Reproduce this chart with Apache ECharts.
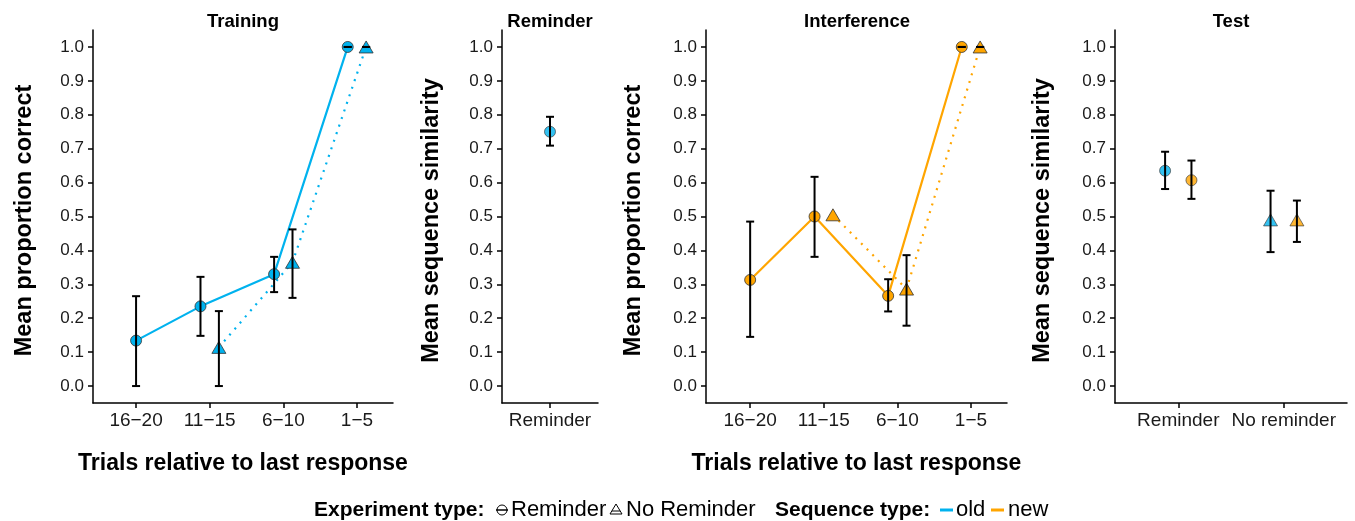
<!DOCTYPE html>
<html>
<head>
<meta charset="utf-8">
<script src="https://cdn.jsdelivr.net/npm/echarts@6/dist/echarts.min.js"></script>
<style>html,body{margin:0;padding:0;background:#fff}#chart{width:1355px;height:521px}</style>
</head>
<body>
<div id="chart"></div>
<script>
// values
const trialCats = ['16−20', '11−15', '6−10', '1−5'];
const reminderCats = ['Reminder'];
const testCats = ['Reminder', 'No reminder'];
const yTicks = [0, 0.1, 0.2, 0.3, 0.4, 0.5, 0.6, 0.7, 0.8, 0.9, 1.0];

// Training (old sequence): circle = Reminder, triangle = No Reminder
const trainRemMean = [0.134, 0.235, 0.330, 1.0];
const trainRemLow  = [0.0, 0.148, 0.277, 1.0];
const trainRemHigh = [0.265, 0.322, 0.381, 1.0];
const trainNoRemMean = [null, 0.114, 0.365, 1.0];
const trainNoRemLow  = [null, 0.0, 0.260, 1.0];
const trainNoRemHigh = [null, 0.221, 0.462, 1.0];

// Reminder
const reminderMean = [0.750];
const reminderLow  = [0.709];
const reminderHigh = [0.794];

// Interference (new sequence)
const interRemMean = [0.313, 0.500, 0.266, 1.0];
const interRemLow  = [0.145, 0.381, 0.220, 1.0];
const interRemHigh = [0.485, 0.617, 0.315, 1.0];
const interNoRemMean = [null, 0.505, 0.286, 1.0];
const interNoRemLow  = [null, null, 0.178, 1.0];
const interNoRemHigh = [null, null, 0.386, 1.0];

// Test: old vs new, by category
const testOldMean = [0.635, 0.490];
const testOldLow  = [0.581, 0.395];
const testOldHigh = [0.691, 0.576];
const testNewMean = [0.607, 0.490];
const testNewLow  = [0.552, 0.425];
const testNewHigh = [0.665, 0.547];

const OLD = '#00B2EE';
const NEW = '#FFA500';
const FONT = '"Liberation Sans", Arial, sans-serif';
const DODGE = 0.125;

const chart = echarts.init(document.getElementById('chart'));

function xPos(i, other, sign) {
  return i + 1 + (other[i] == null ? 0 : sign * DODGE);
}
function points(means, other, sign) {
  return means.map((m, i) => m == null ? null : [xPos(i, other, sign), m]).filter(p => p);
}
function bars(lows, highs, other, sign) {
  return lows.map((l, i) => l == null ? null : [xPos(i, other, sign), l, highs[i]]).filter(p => p);
}

function errorSeries(idx, data) {
  return {
    type: 'custom', xAxisIndex: idx, yAxisIndex: idx, z: 5, silent: true,
    data: data,
    renderItem: function (params, api) {
      const lo = api.coord([api.value(0), api.value(1)]);
      const hi = api.coord([api.value(0), api.value(2)]);
      const w = 4;
      const st = { stroke: '#000', lineWidth: 2 };
      return {
        type: 'group',
        children: [
          { type: 'line', shape: { x1: lo[0], y1: lo[1], x2: hi[0], y2: hi[1] }, style: st },
          { type: 'line', shape: { x1: lo[0] - w, y1: lo[1], x2: lo[0] + w, y2: lo[1] }, style: st },
          { type: 'line', shape: { x1: hi[0] - w, y1: hi[1], x2: hi[0] + w, y2: hi[1] }, style: st }
        ]
      };
    }
  };
}

function lineSeries(idx, data, color, symbol, dotted) {
  return {
    type: 'line', xAxisIndex: idx, yAxisIndex: idx, z: 3, silent: true,
    data: data,
    symbol: symbol,
    symbolSize: symbol === 'triangle' ? [14, 12] : 11,
    showSymbol: true,
    itemStyle: { color: color, borderColor: '#333', borderWidth: 0.8 },
    lineStyle: { color: color, width: 2.2, type: dotted ? [2, 6] : 'solid' }
  };
}

const axisStyle = { color: '#000', width: 1.5 };

function yAxisFor(idx, name, gap) {
  return {
    type: 'value', gridIndex: idx, min: -0.05, max: 1.05,
    name: name, nameLocation: 'middle', nameGap: gap,
    nameTextStyle: { fontFamily: FONT, fontSize: 23.5, fontWeight: 'bold', color: '#000', padding: [0, 8, 0, 0] },
    axisLine: { show: true, onZero: false, lineStyle: axisStyle },
    axisTick: { show: true, length: 5, lineStyle: axisStyle, customValues: yTicks },
    axisLabel: { customValues: yTicks, formatter: v => v.toFixed(1), fontFamily: FONT, fontSize: 17, color: '#1a1a1a', margin: 9 },
    splitLine: { show: false }
  };
}

function xAxisFor(idx, cats, name, min, max) {
  const ticks = cats.map((c, i) => i + 1);
  return {
    type: 'value', gridIndex: idx, min: min, max: max,
    name: name, nameLocation: 'middle', nameGap: 49,
    nameTextStyle: { fontFamily: FONT, fontSize: 23, fontWeight: 'bold', color: '#000' },
    axisLine: { show: true, onZero: false, lineStyle: axisStyle },
    axisTick: { show: true, length: 5, lineStyle: axisStyle, customValues: ticks },
    axisLabel: { customValues: ticks, formatter: v => cats[Math.round(v) - 1], fontFamily: FONT, fontSize: 19, color: '#1a1a1a', margin: 8 },
    splitLine: { show: false }
  };
}

function panelTitle(text, x) {
  return {
    text: text, left: x, top: 12, textAlign: 'center', padding: 0,
    textStyle: { fontFamily: FONT, fontSize: 18.5, fontWeight: 'bold', color: '#000' }
  };
}

// test panel points: circle for Reminder, triangle for No reminder
function testPoints(means, sign) {
  return means.map((m, i) => ({
    value: [i + 1 + sign * DODGE, m],
    symbol: i === 0 ? 'circle' : 'triangle',
    symbolSize: i === 0 ? 11 : [14, 12]
  }));
}

const legendY = 510;
const legendText = (x, text, bold) => ({
  type: 'text', x: x, y: legendY,
  style: { text: text, fontFamily: FONT, fontSize: bold ? 21 : 22, fontWeight: bold ? 'bold' : 'normal', fill: '#000', verticalAlign: 'middle' }
});

const option = {
  animation: false,
  backgroundColor: '#fff',
  title: [
    panelTitle('Training', 243),
    panelTitle('Reminder', 550),
    panelTitle('Interference', 857),
    panelTitle('Test', 1231)
  ],
  grid: [
    { left: 93, top: 30, width: 300, height: 373 },
    { left: 502, top: 30, width: 96, height: 373 },
    { left: 706, top: 30, width: 301, height: 373 },
    { left: 1115, top: 30, width: 232, height: 373 }
  ],
  xAxis: [
    xAxisFor(0, trialCats, 'Trials relative to last response', 0.415, 4.49),
    xAxisFor(1, reminderCats, '', 0.4, 1.6),
    xAxisFor(2, trialCats, 'Trials relative to last response', 0.4, 4.49),
    xAxisFor(3, testCats, '', 0.4, 2.6)
  ],
  yAxis: [
    yAxisFor(0, 'Mean proportion correct', 56),
    yAxisFor(1, 'Mean sequence similarity', 58),
    yAxisFor(2, 'Mean proportion correct', 60),
    yAxisFor(3, 'Mean sequence similarity', 60)
  ],
  series: [
    lineSeries(0, points(trainRemMean, trainNoRemMean, -1), OLD, 'circle', false),
    lineSeries(0, points(trainNoRemMean, trainRemMean, 1), OLD, 'triangle', true),
    errorSeries(0, bars(trainRemLow, trainRemHigh, trainNoRemMean, -1)),
    errorSeries(0, bars(trainNoRemLow, trainNoRemHigh, trainRemMean, 1)),

    {
      type: 'scatter', xAxisIndex: 1, yAxisIndex: 1, z: 3, silent: true,
      data: points(reminderMean, [null], 0), symbol: 'circle', symbolSize: 11,
      itemStyle: { color: OLD, borderColor: '#333', borderWidth: 0.8 }
    },
    errorSeries(1, bars(reminderLow, reminderHigh, [null], 0)),

    lineSeries(2, points(interRemMean, interNoRemMean, -1), NEW, 'circle', false),
    lineSeries(2, points(interNoRemMean, interRemMean, 1), NEW, 'triangle', true),
    errorSeries(2, bars(interRemLow, interRemHigh, interNoRemMean, -1)),
    errorSeries(2, bars(interNoRemLow, interNoRemHigh, interRemMean, 1)),

    {
      type: 'scatter', xAxisIndex: 3, yAxisIndex: 3, z: 3, silent: true,
      data: testPoints(testOldMean, -1),
      itemStyle: { color: OLD, borderColor: '#333', borderWidth: 0.8 }
    },
    {
      type: 'scatter', xAxisIndex: 3, yAxisIndex: 3, z: 3, silent: true,
      data: testPoints(testNewMean, 1),
      itemStyle: { color: NEW, borderColor: '#333', borderWidth: 0.8 }
    },
    errorSeries(3, bars(testOldLow, testOldHigh, testOldMean, -1)),
    errorSeries(3, bars(testNewLow, testNewHigh, testNewMean, 1))
  ],
  graphic: [
    legendText(314, 'Experiment type:', true),
    { type: 'circle', shape: { cx: 502, cy: legendY, r: 5 }, style: { fill: '#fff', stroke: '#000', lineWidth: 1 } },
    { type: 'line', shape: { x1: 496, y1: legendY, x2: 508, y2: legendY }, style: { stroke: '#000', lineWidth: 1.5 } },
    legendText(511, 'Reminder', false),
    { type: 'polygon', shape: { points: [[616, legendY - 6], [622, legendY + 4], [610, legendY + 4]] }, style: { fill: '#fff', stroke: '#000', lineWidth: 1 } },
    { type: 'line', shape: { x1: 612, y1: legendY + 1, x2: 620, y2: legendY + 1 }, style: { stroke: '#000', lineWidth: 1 } },
    legendText(626, 'No Reminder', false),
    legendText(775, 'Sequence type:', true),
    { type: 'line', shape: { x1: 940, y1: legendY, x2: 953, y2: legendY }, style: { stroke: OLD, lineWidth: 3 } },
    legendText(956, 'old', false),
    { type: 'line', shape: { x1: 991, y1: legendY, x2: 1004, y2: legendY }, style: { stroke: NEW, lineWidth: 3 } },
    legendText(1008, 'new', false)
  ]
};

chart.setOption(option);
</script>
</body>
</html>
